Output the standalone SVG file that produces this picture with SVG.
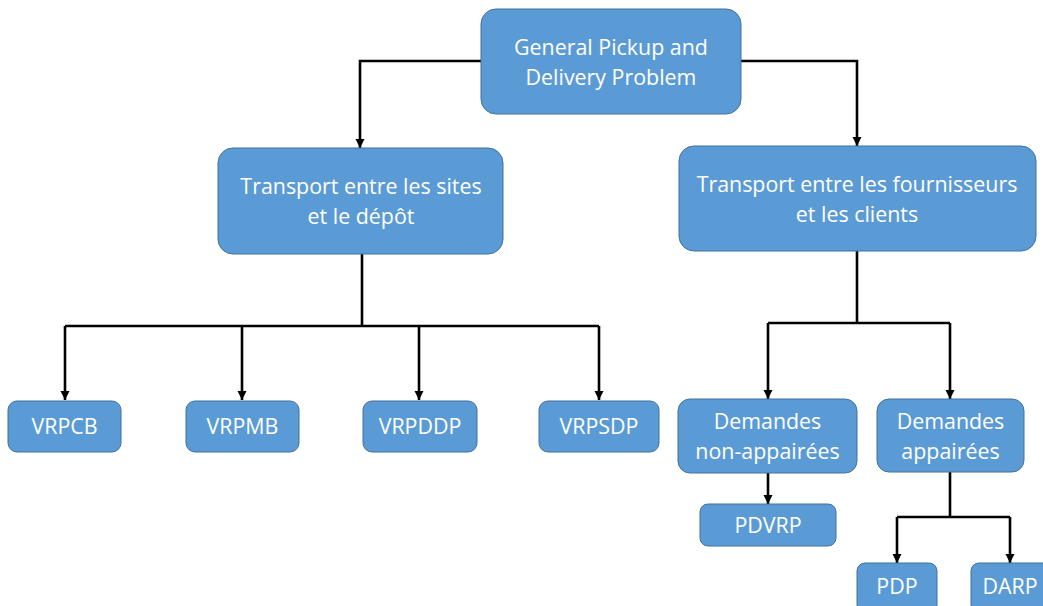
<svg xmlns="http://www.w3.org/2000/svg" width="1043" height="606" viewBox="0 0 1043 606">
<defs>
<marker id="arr" viewBox="0 0 10 10" refX="10" refY="5" markerWidth="3.6" markerHeight="3.6" orient="auto" markerUnits="strokeWidth">
<path d="M0,0 L10,5 L0,10 Z" fill="#000"/>
</marker>
<style>
.box{fill:#5B9BD5;stroke:#41719C;stroke-width:1}
.t{font-family:"Open Sans","DejaVu Sans",sans-serif;font-size:21.4px;fill:#fff;text-anchor:middle}
.c{fill:none;stroke:#000;stroke-width:2.6}
.a{fill:none;stroke:#000;stroke-width:2.6;marker-end:url(#arr)}
</style>
</defs>
<rect width="1043" height="606" fill="#fff"/>
<g id="connectors">
<path class="a" d="M481,61 H360 V148"/>
<path class="a" d="M741,61 H857 V146"/>
<path class="c" d="M362,254 V326 M65,326 H599"/>
<path class="a" d="M65,326 V400"/>
<path class="a" d="M242,326 V400"/>
<path class="a" d="M419,326 V400"/>
<path class="a" d="M599,326 V400"/>
<path class="c" d="M857,251 V323 M768,323 H950"/>
<path class="a" d="M768,323 V399"/>
<path class="a" d="M950,323 V399"/>
<path class="a" d="M768,473 V504"/>
<path class="c" d="M950,472 V517 M897,517 H1010"/>
<path class="a" d="M897,517 V563"/>
<path class="a" d="M1010,517 V563"/>
</g>
<g id="n-root"><rect class="box" x="481" y="9" width="260" height="105" rx="15"/><text class="t" x="611" y="55">General Pickup and</text><text class="t" x="611" y="85">Delivery Problem</text></g>
<g id="n-sites"><rect class="box" x="218" y="148" width="285" height="106" rx="15"/><text class="t" x="361" y="194">Transport entre les sites</text><text class="t" x="361" y="224">et le dépôt</text></g>
<g id="n-four"><rect class="box" x="679" y="146" width="357" height="105" rx="15"/><text class="t" x="857" y="192">Transport entre les fournisseurs</text><text class="t" x="857" y="222">et les clients</text></g>
<g id="n-vrpcb"><rect class="box" x="8" y="401" width="113" height="51" rx="9"/><text class="t" x="64.5" y="434">VRPCB</text></g>
<g id="n-vrpmb"><rect class="box" x="186" y="401" width="113" height="51" rx="9"/><text class="t" x="242.5" y="434">VRPMB</text></g>
<g id="n-vrpddp"><rect class="box" x="363" y="401" width="114" height="51" rx="9"/><text class="t" x="420" y="434">VRPDDP</text></g>
<g id="n-vrpsdp"><rect class="box" x="539" y="401" width="120" height="51" rx="9"/><text class="t" x="599" y="434">VRPSDP</text></g>
<g id="n-nonapp"><rect class="box" x="678" y="399" width="179" height="74" rx="12"/><text class="t" x="767.5" y="429">Demandes</text><text class="t" x="767.5" y="459">non-appairées</text></g>
<g id="n-app"><rect class="box" x="877" y="399" width="147" height="73" rx="12"/><text class="t" x="950.5" y="429">Demandes</text><text class="t" x="950.5" y="459">appairées</text></g>
<g id="n-pdvrp"><rect class="box" x="700" y="504" width="136" height="42" rx="8"/><text class="t" x="768" y="533">PDVRP</text></g>
<g id="n-pdp"><rect class="box" x="857" y="563" width="80" height="50" rx="8"/><text class="t" x="897" y="594">PDP</text></g>
<g id="n-darp"><rect class="box" x="971" y="563" width="80" height="50" rx="8"/><text class="t" x="1010" y="594">DARP</text></g>
</svg>
